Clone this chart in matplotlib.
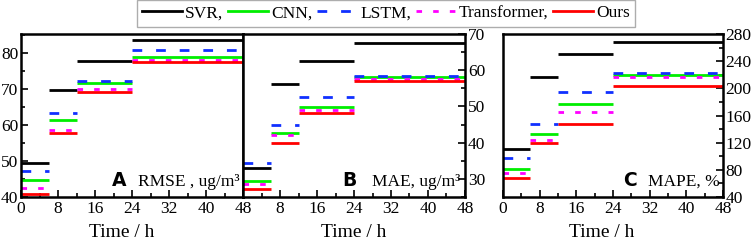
import matplotlib.pyplot as plt
from matplotlib.ticker import MultipleLocator, FixedLocator

# Forecast horizon segments (hours)
edges = [0, 6, 12, 24, 48]
models = ["SVR", "CNN", "LSTM", "Transformer", "Ours"]

# RMSE, ug/m3
rmse_svr = [49.5, 69.8, 77.7, 83.5]
rmse_cnn = [44.7, 61.3, 71.7, 78.9]
rmse_lstm = [47.3, 63.3, 72.2, 80.8]
rmse_trans = [42.4, 58.7, 70.1, 78.1]
rmse_ours = [40.8, 57.8, 69.2, 77.6]

# MAE, ug/m3
mae_svr = [33.1, 56.2, 62.6, 67.5]
mae_cnn = [29.4, 42.8, 49.9, 58.1]
mae_lstm = [34.4, 44.9, 52.5, 58.4]
mae_trans = [28.6, 42.1, 49.0, 57.5]
mae_ours = [27.1, 40.0, 48.1, 57.1]

# MAPE, %
mape_svr = [110, 217, 250, 268]
mape_cnn = [81, 133, 177, 219]
mape_lstm = [98, 147, 194, 223]
mape_trans = [75, 124.5, 165, 217]
mape_ours = [68, 119, 148, 204]

styles = {
    "SVR": dict(color="black", linestyle="-"),
    "CNN": dict(color="#00ee00", linestyle="-"),
    "LSTM": dict(color="#1030ff", linestyle=(0, (3.5, 5))),
    "Transformer": dict(color="#ff00ff", linestyle=(0, (2, 4))),
    "Ours": dict(color="#ff0000", linestyle="-"),
}

plt.rcParams["font.family"] = ["Liberation Serif", "DejaVu Serif"]

fig = plt.figure(figsize=(7.54, 2.44), dpi=100)
ax_a = fig.add_axes([0.0279, 0.1926, 0.2944, 0.668])
ax_b = fig.add_axes([0.3223, 0.1926, 0.2944, 0.668])
ax_c = fig.add_axes([0.667, 0.1926, 0.2918, 0.668])

panels = [
    (ax_a, [rmse_svr, rmse_cnn, rmse_lstm, rmse_trans, rmse_ours], (40, 85.3), 10, 5, "left",
     "A", "RMSE , ug/m³", 0.41, 0.985, 0.455),
    (ax_b, [mae_svr, mae_cnn, mae_lstm, mae_trans, mae_ours], (25, 70), 10, 5, "right",
     "B", "MAE, ug/m³", 0.446, 0.977, 0.5),
    (ax_c, [mape_svr, mape_cnn, mape_lstm, mape_trans, mape_ours], (40, 280), 40, 20, "right",
     "C", "MAPE, %", 0.545, 0.986, 0.45),
]

for ax, series, ylim, major, minor, side, letter, metric, xl, xr, lx in panels:
    for name, vals in zip(models, series):
        for i, v in enumerate(vals):
            ax.hlines(v, edges[i], edges[i + 1], linewidth=2, **styles[name])
    ax.set_xlim(0, 48)
    ax.set_ylim(*ylim)
    ax.xaxis.set_major_locator(MultipleLocator(8))
    ax.xaxis.set_minor_locator(MultipleLocator(4))
    ax.yaxis.set_major_locator(MultipleLocator(major))
    ax.yaxis.set_minor_locator(MultipleLocator(minor))
    ax.tick_params(which="both", direction="in", labelsize=12.5, width=1.2,
                   top=False, left=(side == "left"), right=(side == "right"),
                   labelleft=(side == "left"), labelright=(side == "right"))
    ax.tick_params(axis="x", pad=3)
    ax.tick_params(axis="y", pad=2)
    ax.tick_params(which="major", length=5)
    ax.tick_params(which="minor", length=3)
    for sp in ax.spines.values():
        sp.set_linewidth(1.8)
    ax.set_xlabel("Time / h", fontsize=14, labelpad=5)
    ax.xaxis.label.set_x(lx)
    ax.text(xl, 0.067, letter, transform=ax.transAxes, fontsize=13.5, fontweight="bold",
            family="DejaVu Sans", ha="left", va="baseline")
    ax.text(xr, 0.067, metric, transform=ax.transAxes, fontsize=12.5,
            ha="right", va="baseline")

# Panel B hides its leading 0 label (shared edge with panel A)
ax_b.xaxis.set_major_locator(FixedLocator([8, 16, 24, 32, 40, 48]))

leg_handles = [plt.Line2D([0], [0], linewidth=2, **styles[m]) for m in models]
labels = ["SVR,", "CNN,", "LSTM,", "Transformer,", "Ours"]
leg = fig.legend(leg_handles, labels, loc="upper center", bbox_to_anchor=(0.512, 1.0),
                 ncol=5, fontsize=12.5, handlelength=2.3, handletextpad=0.2,
                 columnspacing=0.25, frameon=True, fancybox=False, borderpad=0.3,
                 borderaxespad=0)
leg.get_frame().set_edgecolor("#999999")
leg.get_frame().set_linewidth(1.0)

fig.savefig("out.png", dpi=100)
